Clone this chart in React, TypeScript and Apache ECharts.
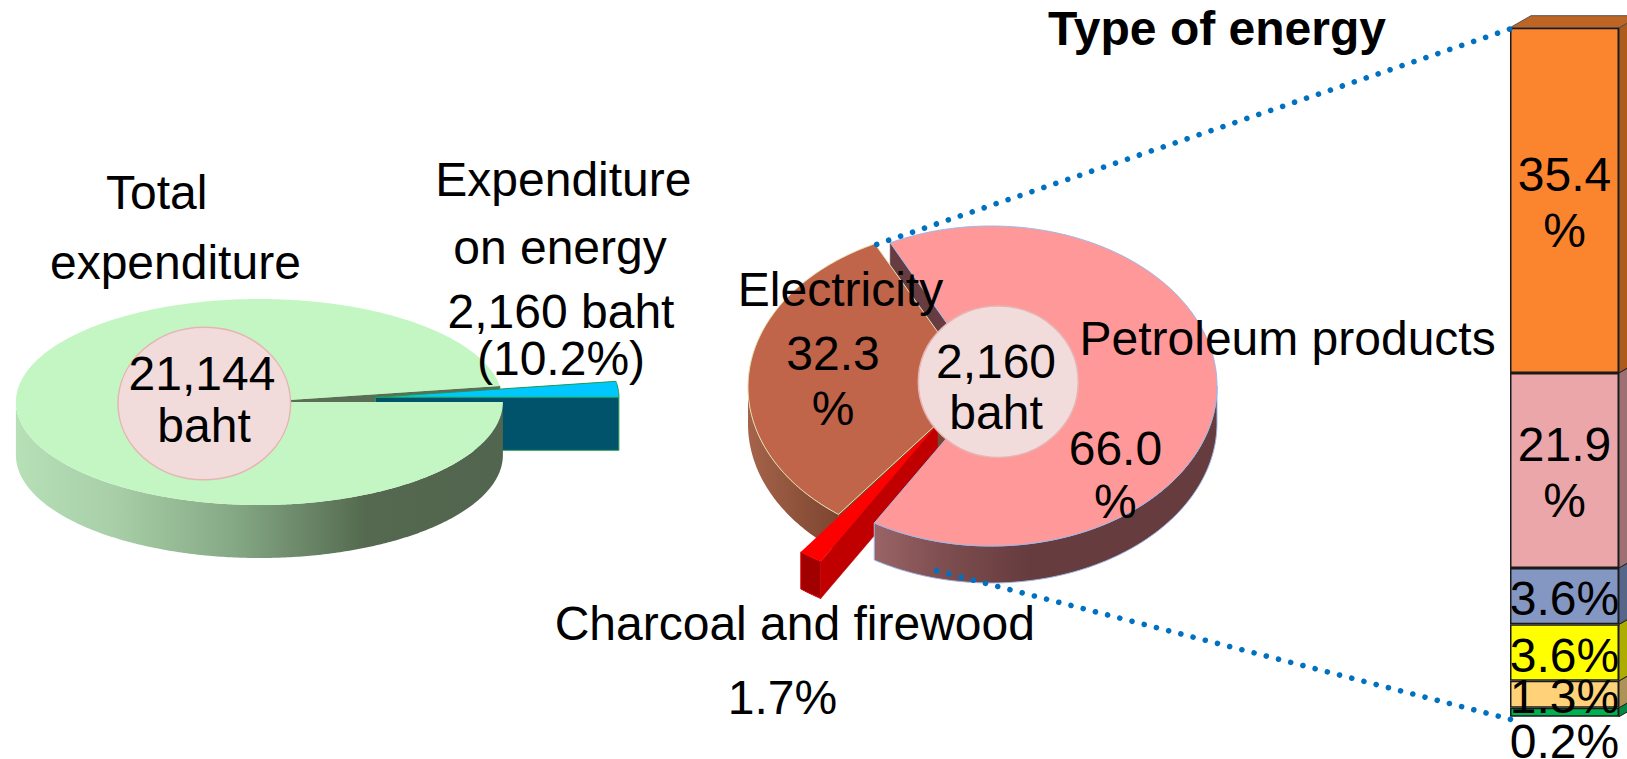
import React, { useEffect, useRef } from "react";
import * as echarts from "echarts";

// ---------- data ----------
const totalSliceNames = ["Other expenditure", "Expenditure on energy"];
const totalSliceShares = [89.8, 10.2];
const energySliceNames = ["Petroleum products", "Charcoal and firewood", "Electricity"];
const energySliceShares = [66.0, 1.7, 32.3];
const columnNames = ["Green", "Peach", "Yellow", "Blue", "Pink", "Orange"];
// length of each column segment, bottom to top, as % of the column's height
const columnLengths = [1.3, 3.9, 8.2, 8.2, 28.3, 50.1];
const columnLabels = ["0.2%", "1.3%", "3.6%", "3.6%", "21.9\n%", "35.4\n%"];
const columnColors = ["#00B050", "#FFD27A", "#FFFF00", "#8497C2", "#EBA6A9", "#FB842E"];
const columnSideColors = ["#008A45", "#AD9355", "#ADAD00", "#56668A", "#9E7074", "#AD5A1D"];

const totalCaption = ["Total", "expenditure"];
const energyCaption = ["Expenditure", "on energy", "2,160 baht", "(10.2%)"];
const totalCentre = ["21,144", "baht"];
const energyCentre = ["2,160", "baht"];
const electricityLabel = ["Electricity", "32.3", "%"];
const petroleumLabel = ["Petroleum products", "66.0", "%"];
const charcoalLabel = ["Charcoal and firewood", "1.7%"];
const columnTitle = "Type of energy";

// ---------- geometry ----------
const FONT = '"Liberation Sans", Arial, sans-serif';
const FS = 48;
// the reference draws the 10.2% slice of the flattened pie as a narrow sliver
const TOTAL_WEDGE_DEG_PER_SHARE = 8.9 / 10.2;
const L = { cx: 259.4, cy: 402, rx: 243.5, ry: 103, depth: 53 };
const R = { cx: 991, cy: 386, rx: 226, ry: 160, depth: 37 };
const RE = { cx: 977, cy: 387, rx: 229, ry: 160, depth: 37 };
const ENERGY_START = -116.5;

type P = number[];
const pt = (g: any, deg: number, dx = 0, dy = 0): P => {
  const a = (deg * Math.PI) / 180;
  return [g.cx + dx + g.rx * Math.cos(a), g.cy + dy + g.ry * Math.sin(a)];
};
const arc = (g: any, a: number, b: number, dx = 0, dy = 0): P[] => {
  const out: P[] = [];
  const n = Math.max(2, Math.ceil(Math.abs(b - a) * 1.5));
  for (let i = 0; i <= n; i++) out.push(pt(g, a + ((b - a) * i) / n, dx, dy));
  return out;
};
const poly = (points: P[], fill: any, stroke?: string, lineWidth = 1) => ({
  type: "polygon",
  shape: { points },
  style: { fill, stroke: stroke ?? "none", lineWidth },
});
const side = (g: any, a: number, b: number, fill: any, stroke?: string, dx = 0, dy = 0) =>
  poly([...arc(g, a, b, dx, dy), ...arc(g, b, a, dx, dy + g.depth)], fill, stroke);
const wall = (g: any, deg: number, fill: string, dx = 0, dy = 0) => {
  const p = pt(g, deg, dx, dy);
  const c = [g.cx + dx, g.cy + dy];
  return poly([c, p, [p[0], p[1] + g.depth], [c[0], c[1] + g.depth]], fill, fill, 0.5);
};
const grad = (stops: [number, string][]) =>
  new echarts.graphic.LinearGradient(0, 0, 1, 0, stops.map(([offset, color]) => ({ offset, color })));

function renderTotal(_: any, api: any) {
  const i = api.value(0);
  const wedgeSweep = totalSliceShares[1] * TOTAL_WEDGE_DEG_PER_SHARE;
  if (i === 1) {
    const dx = 116;
    const dy = -4.7;
    const a = [L.cx + dx, L.cy + dy];
    const b = pt(L, 0, dx, dy);
    return {
      type: "group",
      children: [
        wall(L, 360 - wedgeSweep, "#5A6E55"),
        poly([a, b, [b[0], b[1] + L.depth], [a[0], a[1] + L.depth]], "#00536B", "#2E9A5A"),
        poly([a, ...arc(L, -wedgeSweep, 0, dx, dy), a], "#00C8FF", "#1E9A50"),
      ],
    };
  }
  return {
    type: "group",
    children: [
      side(
        L,
        0,
        180,
        grad([
          [0, "#B7E0B7"],
          [0.2, "#A8CFA8"],
          [0.45, "#84A884"],
          [0.72, "#54694F"],
          [1, "#52654F"],
        ]),
      ),
      poly([[L.cx, L.cy], ...arc(L, 0, 360 - wedgeSweep)], "#C3F6C3"),
    ],
  };
}

function renderEnergy(_: any, api: any) {
  const i = api.value(0);
  const sweeps = energySliceShares.map((v) => v * 3.6);
  const a0 = ENERGY_START;
  const a1 = a0 + sweeps[0];
  const a2 = a1 + sweeps[1];
  const a3 = a2 + sweeps[2];
  if (i === 2) {
    return {
      type: "group",
      children: [
        wall(R, a0, "#663C40"),
        wall(RE, a2, "#7D4530"),
        side(RE, a2, 180, grad([[0, "#A5634A"], [1, "#7D4530"]])),
        poly([[RE.cx, RE.cy], ...arc(RE, a2, a3)], "#C0654A", "#E4E4B4"),
      ],
    };
  }
  if (i === 1) {
    const dx = -53.5;
    const dy = 38.5;
    return {
      type: "group",
      children: [
        side(R, a1, a2, "#A00000", "#E00000", dx, dy),
        wall(R, a1, "#C00000", dx, dy),
        poly([[R.cx + dx, R.cy + dy], ...arc(R, a1, a2, dx, dy)], "#FF0000"),
      ],
    };
  }
  return {
    type: "group",
    children: [
      side(
        R,
        0,
        a1,
        grad([
          [0, "#9A6466"],
          [0.2, "#7E4E50"],
          [0.45, "#663C3E"],
          [1, "#663C3E"],
        ]),
        "#9DB7E8",
      ),
      poly([[R.cx, R.cy], ...arc(R, a0, a1)], "#FF9999", "#9DB7E8"),
    ],
  };
}

function renderColumnSides(_: any, api: any) {
  const start = api.value(1);
  const end = api.value(2);
  const top = api.coord([0, end]);
  const bottom = api.coord([0, start]);
  const half = api.size([1, 0])[0] / 2;
  const x = top[0] + half;
  const ox = 21;
  const oy = -12;
  const i = api.value(0);
  const children: any[] = [
    poly(
      [
        [x, top[1]],
        [x + ox, top[1] + oy],
        [x + ox, bottom[1] + oy],
        [x, bottom[1]],
      ],
      columnSideColors[i],
      "#222",
      1,
    ),
  ];
  if (i === columnLengths.length - 1) {
    children.push(
      poly(
        [
          [x - half * 2, top[1]],
          [x - half * 2 + ox, top[1] + oy],
          [x + ox, top[1] + oy],
          [x, top[1]],
        ],
        "#BE6524",
        "#555",
        1,
      ),
    );
  }
  return { type: "group", children };
}

const text = (s: string, x: number, y: number, bold = false, z = 110) => ({
  type: "text",
  z,
  x,
  y,
  style: {
    text: s,
    fill: "#000",
    font: `${bold ? "bold " : ""}${FS}px ${FONT}`,
    textAlign: "center",
    textVerticalAlign: "middle",
  },
});
const disc = (cx: number, cy: number, rx: number, ry: number) => ({
  type: "ellipse",
  z: 100,
  shape: { cx, cy, rx, ry },
  style: { fill: "#F2DCDB", stroke: "#E6B4B2", lineWidth: 1.5 },
});
const dotted = (x1: number, y1: number, x2: number, y2: number) => ({
  type: "line",
  z: 90,
  shape: { x1, y1, x2, y2 },
  style: { stroke: "#0070C0", lineWidth: 5.6, lineDash: [0.01, 12.6], lineCap: "round" },
});

export default function App() {
  const ref = useRef<HTMLDivElement>(null);
  useEffect(() => {
    document.body.style.margin = "0";
    document.body.style.background = "#fff";
    document.body.style.overflow = "hidden";
    const chart = echarts.init(ref.current!, null, { renderer: "svg" });
    let acc = 0;
    const columnRanges = columnLengths.map((v, i) => {
      const r = [i, acc, acc + v];
      acc += v;
      return r;
    });
    chart.setOption({
      animation: false,
      backgroundColor: "#fff",
      textStyle: { fontFamily: FONT },
      grid: { left: 1510, top: 27.7, width: 109, height: 689, containLabel: false },
      xAxis: { type: "category", data: [columnTitle], show: false },
      yAxis: { type: "value", min: 0, max: 100, show: false },
      series: [
        {
          type: "custom",
          name: totalSliceNames[0],
          coordinateSystem: "none",
          silent: true,
          renderItem: renderTotal,
          data: totalSliceShares.map((v, i) => [i, v]).reverse(),
        },
        {
          type: "custom",
          name: energySliceNames[0],
          coordinateSystem: "none",
          silent: true,
          renderItem: renderEnergy,
          data: energySliceShares.map((v, i) => [i, v]).reverse(),
        },
        {
          type: "custom",
          name: "column sides",
          silent: true,
          renderItem: renderColumnSides,
          encode: { x: -1, y: 2 },
          clip: false,
          data: columnRanges,
        },
        ...columnLengths.map((v, i) => ({
          type: "bar",
          name: columnNames[i],
          stack: "energy",
          barWidth: "100%",
          silent: true,
          data: [v],
          itemStyle: { color: columnColors[i], borderColor: "#1A1A1A", borderWidth: 1.5 },
          z: 5,
          label: {
            show: true,
            position: i === 0 ? "bottom" : "inside",
            distance: 0,
            offset: [0, i === 0 ? -3 : 2.5],
            formatter: columnLabels[i],
            color: "#000",
            fontFamily: FONT,
            fontSize: FS,
            lineHeight: 56,
          },
        })),
      ],
      graphic: [
        dotted(876.7, 244.3, 1510, 29),
        dotted(936.7, 570.7, 1514.3, 720.3),
        disc(204.3, 403.5, 86.3, 76.3),
        disc(998.3, 381.7, 80, 75.7),
        text(totalCaption[0], 156.7, 192),
        text(totalCaption[1], 175.4, 262.5),
        text(energyCaption[0], 563.4, 179.5),
        text(energyCaption[1], 560, 247),
        text(energyCaption[2], 561, 311),
        text(energyCaption[3], 561, 358),
        text(totalCentre[0], 202, 373.5),
        text(totalCentre[1], 204, 425),
        text(electricityLabel[0], 840.5, 289.5),
        text(electricityLabel[1], 833, 353),
        text(electricityLabel[2], 833, 408),
        text(energyCentre[0], 996, 361),
        text(energyCentre[1], 996, 412),
        text(petroleumLabel[0], 1287.6, 338),
        text(petroleumLabel[1], 1115.4, 448),
        text(petroleumLabel[2], 1115.4, 501),
        text(charcoalLabel[0], 794.8, 623.6),
        text(charcoalLabel[1], 782.4, 697),
        text(columnTitle, 1217, 28.5, true),
      ],
    });
    return () => chart.dispose();
  }, []);
  return <div ref={ref} style={{ width: 1627, height: 759 }} />;
}
